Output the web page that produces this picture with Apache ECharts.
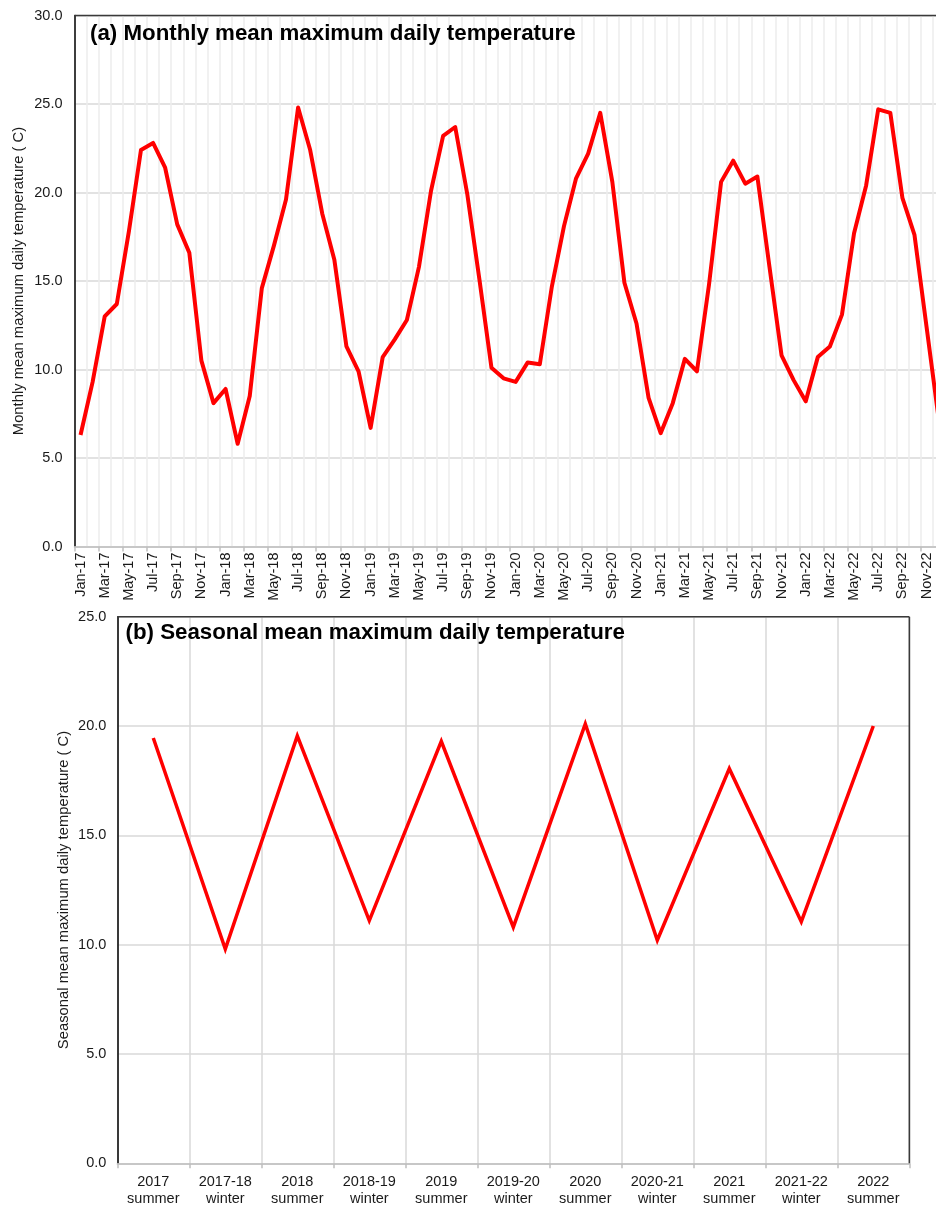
<!DOCTYPE html>
<html>
<head>
<meta charset="utf-8">
<title>Mean maximum daily temperature</title>
<script src="https://cdn.jsdelivr.net/npm/echarts@6/dist/echarts.min.js"></script>
<style>
  html, body { margin: 0; padding: 0; background: #ffffff; overflow: hidden; }
  #chart { width: 946px; height: 1209px; }
</style>
</head>
<body>
<div id="chart"></div>
<script>
// Month names and years used to build the monthly category labels (Jan-17 ... Dec-22)
const monthNames = ['Jan', 'Feb', 'Mar', 'Apr', 'May', 'Jun', 'Jul', 'Aug', 'Sep', 'Oct', 'Nov', 'Dec'];
const yearSuffixes = ['17', '18', '19', '20', '21', '22'];

// Monthly mean maximum daily temperature (°C), one row per year
const monthly2017 = [6.3, 9.3, 13.0, 13.7, 17.8, 22.4, 22.8, 21.4, 18.2, 16.6, 10.5, 8.1];
const monthly2018 = [8.9, 5.8, 8.5, 14.6, 17.0, 19.6, 24.8, 22.4, 18.8, 16.2, 11.3, 9.9];
const monthly2019 = [6.7, 10.7, 11.7, 12.8, 15.8, 20.1, 23.2, 23.7, 19.9, 15.1, 10.1, 9.5];
const monthly2020 = [9.3, 10.4, 10.3, 14.7, 18.1, 20.8, 22.2, 24.5, 20.6, 14.9, 12.6, 8.4];
const monthly2021 = [6.4, 8.1, 10.6, 9.9, 14.8, 20.6, 21.8, 20.5, 20.9, 15.8, 10.8, 9.4];
const monthly2022 = [8.2, 10.7, 11.3, 13.1, 17.7, 20.4, 24.7, 24.5, 19.7, 17.6, 12.4, 7.2];

// Seasonal mean maximum daily temperature (°C)
const seasonLabels = [
  '2017\nsummer', '2017-18\nwinter', '2018\nsummer', '2018-19\nwinter',
  '2019\nsummer', '2019-20\nwinter', '2020\nsummer', '2020-21\nwinter',
  '2021\nsummer', '2021-22\nwinter', '2022\nsummer'
];
const seasonalValues = [19.45, 9.8, 19.55, 11.1, 19.3, 10.8, 20.1, 10.2, 18.05, 11.05, 20.0];

// Panel titles and axis names
const titleA = '(a) Monthly mean maximum daily temperature';
const titleB = '(b) Seasonal mean maximum daily temperature';
const yNameA = 'Monthly mean maximum daily temperature ( C)';
const yNameB = 'Seasonal mean maximum daily temperature ( C)';

const monthLabels = [];
yearSuffixes.forEach(y => monthNames.forEach(m => monthLabels.push(m + '-' + y)));
const monthlyValues = [].concat(monthly2017, monthly2018, monthly2019, monthly2020, monthly2021, monthly2022);

const FONT = '"Liberation Sans", Arial, Helvetica, sans-serif';
const TEXT = '#1a1a1a';
const BORDER = '#3a3a3a';

// Plot-area boxes of the two panels (pixels)
const boxA = { left: 74.5, top: 15.5, width: 870.2, height: 531 };
const boxB = { left: 117.3, top: 616.7, width: 792, height: 546.6 };

const chart = echarts.init(document.getElementById('chart'), null, { renderer: 'canvas' });

const fmt1 = v => v.toFixed(1);

// Top/right frame strokes drawn above the gridlines
function frameLine(x1, y1, x2, y2) {
  return {
    type: 'line', z: 100, silent: true,
    shape: { x1: x1, y1: y1, x2: x2, y2: y2 },
    style: { stroke: BORDER, lineWidth: 1.5 }
  };
}

chart.setOption({
  animation: false,
  backgroundColor: '#ffffff',
  textStyle: { fontFamily: FONT },
  title: [
    { text: titleA, left: 90, top: 23, padding: 0,
      textStyle: { fontFamily: FONT, fontSize: 22.3, fontWeight: 'bold', color: '#000' } },
    { text: titleB, left: 125.5, top: 622, padding: 0,
      textStyle: { fontFamily: FONT, fontSize: 22.3, fontWeight: 'bold', color: '#000' } }
  ],
  graphic: [
    frameLine(boxA.left, boxA.top, boxA.left + boxA.width, boxA.top),
    frameLine(boxA.left + boxA.width, boxA.top, boxA.left + boxA.width, boxA.top + boxA.height),
    frameLine(boxB.left, boxB.top, boxB.left + boxB.width, boxB.top),
    frameLine(boxB.left + boxB.width, boxB.top, boxB.left + boxB.width, boxB.top + boxB.height)
  ],
  grid: [
    Object.assign({ show: false }, boxA),
    Object.assign({ show: false }, boxB)
  ],
  xAxis: [
    {
      type: 'category', gridIndex: 0, data: monthLabels, boundaryGap: true,
      axisLine: { lineStyle: { color: '#bfbfbf', width: 1.5 } },
      axisTick: { show: true, interval: 1, length: 5, lineStyle: { color: '#bfbfbf', width: 1.5 } },
      axisLabel: { interval: 1, rotate: 90, margin: 6, fontSize: 14.5, color: TEXT, fontFamily: FONT },
      splitLine: { show: true, interval: 0, lineStyle: { color: '#ececec', width: 1.5 } }
    },
    {
      type: 'category', gridIndex: 1, data: seasonLabels, boundaryGap: true,
      axisLine: { lineStyle: { color: '#bfbfbf', width: 1.5 } },
      axisTick: { show: true, interval: 0, length: 5, lineStyle: { color: '#bfbfbf', width: 1.5 } },
      axisLabel: { interval: 0, margin: 10, fontSize: 14.5, lineHeight: 17, color: TEXT, fontFamily: FONT },
      splitLine: { show: true, interval: 0, lineStyle: { color: '#d9d9d9', width: 1.5 } }
    }
  ],
  yAxis: [
    {
      type: 'value', gridIndex: 0, min: 0, max: 30, interval: 5,
      name: yNameA, nameLocation: 'middle', nameRotate: 90, nameGap: 48,
      nameMoveOverlap: false,
      nameTextStyle: { fontSize: 14.8, color: TEXT, fontFamily: FONT },
      axisLine: { show: true, lineStyle: { color: '#000', width: 1.5 } },
      axisTick: { show: false },
      axisLabel: { formatter: fmt1, margin: 12, fontSize: 14.5, color: TEXT, fontFamily: FONT },
      splitLine: { show: true, lineStyle: { color: '#d9d9d9', width: 1.5 } }
    },
    {
      type: 'value', gridIndex: 1, min: 0, max: 25, interval: 5,
      name: yNameB, nameLocation: 'middle', nameRotate: 90, nameGap: 46,
      nameMoveOverlap: false,
      nameTextStyle: { fontSize: 14.8, color: TEXT, fontFamily: FONT },
      axisLine: { show: true, lineStyle: { color: '#000', width: 1.5 } },
      axisTick: { show: false },
      axisLabel: { formatter: fmt1, margin: 11, fontSize: 14.5, color: TEXT, fontFamily: FONT },
      splitLine: { show: true, lineStyle: { color: '#d9d9d9', width: 1.5 } }
    }
  ],
  series: [
    {
      type: 'line', xAxisIndex: 0, yAxisIndex: 0, data: monthlyValues,
      showSymbol: false, symbol: 'none', smooth: false,
      lineStyle: { color: '#ff0000', width: 4, join: 'round' }
    },
    {
      type: 'line', xAxisIndex: 1, yAxisIndex: 1, data: seasonalValues,
      showSymbol: false, symbol: 'none', smooth: false,
      lineStyle: { color: '#ff0000', width: 3.5, join: 'miter' }
    }
  ]
});
</script>
</body>
</html>
